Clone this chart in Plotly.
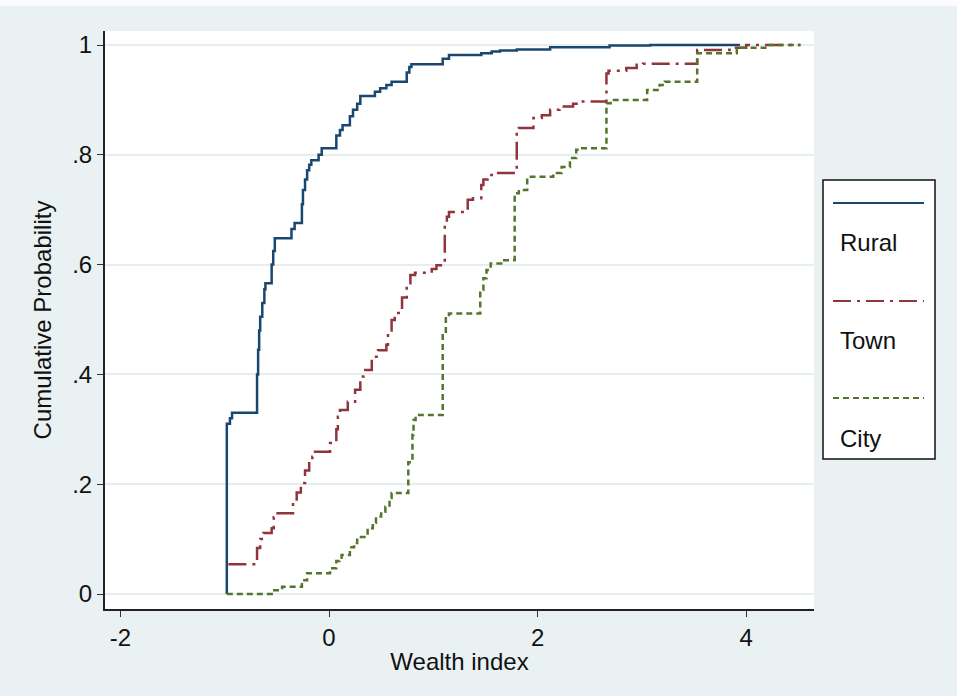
import plotly.graph_objects as go

# ---- data ----
rural_x = [-0.98, -0.98, -0.95, -0.93, -0.69, -0.68, -0.67, -0.66, -0.64, -0.62, -0.61,
           -0.55, -0.535, -0.52, -0.36, -0.33, -0.26, -0.25, -0.23, -0.21, -0.19, -0.17,
           -0.10, -0.07, 0.07, 0.105, 0.13, 0.20, 0.23, 0.27, 0.30, 0.44, 0.49, 0.55,
           0.60, 0.745, 0.77, 0.79, 1.09, 1.15, 1.46, 1.56, 1.64, 1.80, 2.12, 2.69, 3.08, 3.94]
rural_y = [0.0, 0.31, 0.32, 0.33, 0.40, 0.445, 0.48, 0.505, 0.53, 0.555, 0.566,
           0.60, 0.625, 0.648, 0.665, 0.676, 0.71, 0.736, 0.755, 0.772, 0.782, 0.79,
           0.80, 0.812, 0.835, 0.845, 0.854, 0.87, 0.882, 0.893, 0.907, 0.915, 0.921, 0.927,
           0.933, 0.95, 0.96, 0.965, 0.975, 0.982, 0.985, 0.988, 0.99, 0.992, 0.996, 0.999, 1.0, 1.0]

town_x = [-0.965, -0.69, -0.66, -0.63, -0.55, -0.53, -0.52, -0.345, -0.31, -0.27, -0.23,
          -0.19, -0.16, -0.134, 0.01, 0.07, 0.085, 0.105, 0.18, 0.25, 0.30, 0.33, 0.41,
          0.47, 0.55, 0.565, 0.60, 0.63, 0.70, 0.745, 0.78, 0.825, 0.985, 1.03, 1.11,
          1.13, 1.15, 1.33, 1.38, 1.46, 1.48, 1.52, 1.56, 1.80, 1.82, 1.96, 2.04, 2.12,
          2.21, 2.34, 2.39, 2.66, 2.68, 2.85, 2.95, 3.01, 3.53, 3.84, 4.00, 4.52]
town_y = [0.054, 0.084, 0.10, 0.111, 0.12, 0.14, 0.147, 0.166, 0.185, 0.202, 0.225,
          0.238, 0.25, 0.259, 0.275, 0.30, 0.323, 0.335, 0.35, 0.372, 0.396, 0.408, 0.432,
          0.444, 0.454, 0.48, 0.499, 0.512, 0.54, 0.566, 0.581, 0.585, 0.592, 0.599, 0.675,
          0.687, 0.696, 0.718, 0.721, 0.745, 0.755, 0.763, 0.767, 0.845, 0.849, 0.867, 0.872, 0.882,
          0.888, 0.893, 0.897, 0.948, 0.953, 0.958, 0.964, 0.966, 0.991, 0.995, 1.0, 1.0]

city_x = [-0.98, -0.55, -0.45, -0.26, -0.21, 0.01, 0.07, 0.10, 0.12, 0.20, 0.24, 0.27,
          0.37, 0.42, 0.45, 0.50, 0.54, 0.58, 0.60, 0.76, 0.80, 0.81, 0.83, 1.09, 1.12,
          1.15, 1.45, 1.48, 1.51, 1.55, 1.65, 1.78, 1.82, 1.90, 2.15, 2.23, 2.31, 2.37,
          2.40, 2.66, 2.70, 3.05, 3.17, 3.22, 3.53, 3.91, 4.20, 4.52]
city_y = [0.0, 0.007, 0.013, 0.025, 0.038, 0.047, 0.06, 0.066, 0.071, 0.085, 0.093, 0.104,
          0.12, 0.13, 0.141, 0.15, 0.159, 0.175, 0.184, 0.24, 0.29, 0.317, 0.326, 0.475, 0.505,
          0.511, 0.554, 0.575, 0.59, 0.602, 0.608, 0.73, 0.736, 0.76, 0.767, 0.778, 0.794, 0.809,
          0.812, 0.894, 0.90, 0.918, 0.927, 0.933, 0.985, 0.995, 1.0, 1.0]

series_names = ["Rural", "Town", "City"]
series_colors = ["#1a476f", "#90353b", "#55752f"]
series_dash = ["solid", "18px,6px,3px,6px", "6px,4px"]

y_tickvals = [0, 0.2, 0.4, 0.6, 0.8, 1]
y_ticktext = ["0", ".2", ".4", ".6", ".8", "1"]
x_tickvals = [-2, 0, 2, 4]
x_ticktext = ["-2", "0", "2", "4"]

FONT = "Liberation Sans, Arial, sans-serif"
FS = 24

fig = go.Figure()
for name, xs, ys, col, dash, w in zip(series_names, [rural_x, town_x, city_x],
                                       [rural_y, town_y, city_y], series_colors,
                                       series_dash, [2.5, 2.5, 2.5]):
    fig.add_trace(go.Scatter(x=xs, y=ys, mode="lines", name=name,
                             line=dict(color=col, width=w, dash=dash, shape="hv"),
                             showlegend=False))

# Plot area: x 105..814 px, y 31..609 px in a 957x696 page
L, R, T, B = 105, 814, 31, 609
W, H = 957, 696
def px(xp):
    return (xp - L) / (R - L)
def py(yp):
    return (B - yp) / (B - T)

shapes = [
    # legend box
    dict(type="rect", xref="paper", yref="paper", x0=px(823), x1=px(935), y0=py(459), y1=py(180),
         line=dict(color="#111111", width=1.5), fillcolor="white", layer="above"),
    # thin white strip at the very top (page edge)
    dict(type="rect", xref="paper", yref="paper", x0=px(0), x1=px(W), y0=py(6), y1=py(0),
         line=dict(width=0), fillcolor="#fbfcfc", layer="below"),
]
legend_line_y = [203, 301, 398]
legend_text_y = [242, 340, 438]
for name, col, dash, ly in zip(series_names, series_colors, series_dash, legend_line_y):
    shapes.append(dict(type="line", xref="paper", yref="paper", x0=px(833), x1=px(924),
                       y0=py(ly), y1=py(ly), line=dict(color=col, width=2, dash=dash), layer="above"))

annotations = []
for name, ty in zip(series_names, legend_text_y):
    annotations.append(dict(text=name, xref="paper", yref="paper", x=px(838), y=py(ty),
                            xanchor="left", yanchor="middle", showarrow=False,
                            font=dict(family=FONT, size=FS, color="#111111")))

fig.update_layout(
    width=W, height=H,
    margin=dict(l=L, r=W - R, t=T, b=H - B),
    paper_bgcolor="#eaf1f3",
    plot_bgcolor="white",
    font=dict(family=FONT, size=FS, color="#111111"),
    shapes=shapes,
    annotations=annotations,
    showlegend=False,
)
fig.update_xaxes(range=[-2.148, 4.65], tickvals=x_tickvals, ticktext=x_ticktext,
                 ticks="outside", ticklen=6, tickcolor="#333333", showgrid=False,
                 zeroline=False, showline=True, linecolor="#222222", linewidth=2,
                 title=dict(text="Wealth index", standoff=3, font=dict(size=FS)))
fig.update_yaxes(range=[-0.0273, 1.0255], tickvals=y_tickvals, ticktext=y_ticktext,
                 ticks="outside", ticklen=6, tickcolor="#333333", showgrid=True,
                 gridcolor="#e6eef0", gridwidth=2, zeroline=False, showline=True,
                 linecolor="#222222", linewidth=2,
                 title=dict(text="Cumulative Probability", standoff=14, font=dict(size=FS)))

fig.write_html("out.html", config={"displayModeBar": False},
               post_script="document.body.style.margin='0';document.body.style.overflow='hidden';")
